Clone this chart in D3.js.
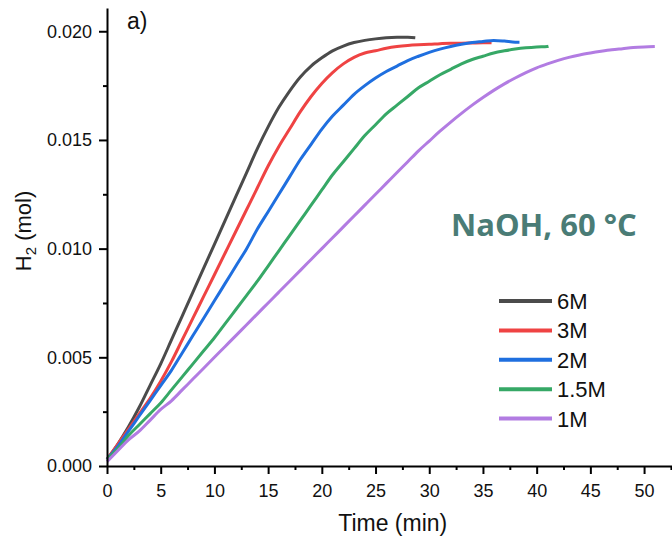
<!DOCTYPE html>
<html>
<head>
<meta charset="utf-8">
<script src="https://cdn.jsdelivr.net/npm/d3@7"></script>
<style>
  html,body{margin:0;padding:0;background:#fff;}
  svg{display:block;}
  .axis path,.axis line{stroke:#000;stroke-width:2;}
  .axis text{font-family:"Liberation Sans",Arial,sans-serif;font-size:18px;fill:#111;}
</style>
</head>
<body>
<div id="chart"></div>
<script>
// H2 evolved vs time, one array per NaOH concentration (1-min steps, last value at END_T)
const SERIES = ["6M","3M","2M","1.5M","1M"];
const COLORS = ["#4b4b4b","#ef4343","#1f6fdf","#36a866","#b27ce2"];
const END_T = [28.7, 35.8, 38.4, 41.1, 51.0];

const H2_6M = [0.0003,0.0010,0.0018,0.0027,0.0037,0.0047,0.0058,0.0069,0.0080,0.0091,
  0.0102,0.0113,0.0124,0.0135,0.0146,0.0156,0.0165,0.01725,0.0179,0.0184,
  0.01878,0.0191,0.01932,0.01948,0.01958,0.01965,0.0197,0.01972,0.01972,0.0197];
const H2_3M = [0.0003,0.0010,0.0017,0.0024,0.0031,0.0039,0.0048,0.0058,0.0068,0.0078,
  0.0088,0.0098,0.0108,0.0118,0.0128,0.0138,0.0147,0.0155,0.0163,0.0170,
  0.0176,0.0181,0.0185,0.0188,0.0190,0.0191,0.01922,0.0193,0.01935,0.01938,
  0.0194,0.01943,0.01945,0.01945,0.01946,0.01947,0.01947];
const H2_2M = [0.0003,0.0009,0.0016,0.0023,0.0030,0.0037,0.0044,0.0052,0.0060,0.0068,
  0.0076,0.0084,0.0092,0.0100,0.0109,0.0117,0.0125,0.0133,0.0141,0.0148,
  0.0155,0.0161,0.0166,0.0171,0.0175,0.01785,0.01815,0.0184,0.01865,0.01885,
  0.01903,0.01918,0.0193,0.0194,0.01948,0.01953,0.01958,0.01955,0.0195,0.0195];
const H2_15M = [0.0003,0.0008,0.0014,0.0019,0.0024,0.0029,0.0035,0.0041,0.0047,0.0053,
  0.0059,0.00655,0.0072,0.00785,0.0085,0.0092,0.0099,0.0106,0.0113,0.0120,
  0.0127,0.0134,0.0140,0.0146,0.0152,0.0157,0.0162,0.0166,0.0170,0.0174,
  0.0177,0.0180,0.01825,0.0185,0.0187,0.01885,0.0190,0.0191,0.01918,0.01924,
  0.01928,0.0193,0.01931];
const H2_1M = [0.0002,0.0007,0.0012,0.0016,0.0021,0.0026,0.0030,0.0035,0.0040,0.0045,
  0.0050,0.0055,0.0060,0.0065,0.0070,0.0075,0.0080,0.0085,0.0090,0.0095,
  0.0100,0.0105,0.0110,0.0115,0.0120,0.0125,0.0130,0.0135,0.0140,0.0145,
  0.01495,0.0154,0.01582,0.01622,0.0166,0.01695,0.01728,0.01758,0.01785,0.0181,
  0.01832,0.0185,0.01866,0.0188,0.01891,0.0190,0.01908,0.01915,0.0192,0.01925,
  0.01928,0.0193];
const VALUES = [H2_6M, H2_3M, H2_2M, H2_15M, H2_1M];

const X_TICKS = [0,5,10,15,20,25,30,35,40,45,50];
const Y_TICKS = [0,0.005,0.010,0.015,0.020];

const W=672, H=539;
const MG={t:8,r:0,b:73,l:107};

const svg=d3.select("#chart").append("svg").attr("width",W).attr("height",H);
const iW=W-MG.l-MG.r, iH=H-MG.t-MG.b;
const g=svg.append("g").attr("transform",`translate(${MG.l},${MG.t})`);

const x=d3.scaleLinear().domain([0,52.6]).range([0,iW]);
const y=d3.scaleLinear().domain([0,0.02107]).range([iH,0]);

// data -> points (index = minute, last point at END_T)
const data=VALUES.map((vals,k)=>vals.map((v,i)=>({t: i===vals.length-1 ? END_T[k] : i, v})));

const line=d3.line().curve(d3.curveMonotoneX).x(d=>x(d.t)).y(d=>y(d.v));
g.selectAll(".curve").data(data).join("path")
  .attr("class","curve")
  .attr("fill","none")
  .attr("stroke",(d,i)=>COLORS[i])
  .attr("stroke-width",3)
  .attr("stroke-linejoin","round")
  .attr("d",line);

// minor ticks
g.append("g").attr("class","axis").attr("transform",`translate(0,${iH})`)
  .call(d3.axisBottom(x).tickValues(d3.range(2.5,52.6,5)).tickSize(4).tickFormat(""))
  .select(".domain").remove();
g.append("g").attr("class","axis")
  .call(d3.axisLeft(y).tickValues([0.0025,0.0075,0.0125,0.0175]).tickSize(4).tickFormat(""))
  .select(".domain").remove();

// major axes
g.append("g").attr("class","axis").attr("transform",`translate(0,${iH})`)
  .call(d3.axisBottom(x).tickValues(X_TICKS).tickSize(8).tickSizeOuter(0).tickPadding(10));
g.append("g").attr("class","axis")
  .call(d3.axisLeft(y).tickValues(Y_TICKS).tickSize(8).tickSizeOuter(0).tickPadding(7)
    .tickFormat(d3.format(".3f")));

// axis titles
svg.append("text").attr("x",MG.l+x(26.6)).attr("y",531)
  .attr("text-anchor","middle").attr("font-family","'Liberation Sans',Arial,sans-serif")
  .attr("font-size",23).attr("fill","#111").text("Time (min)");
const yt=svg.append("text").attr("transform","translate(31,231) rotate(-90)")
  .attr("text-anchor","middle").attr("font-family","'Liberation Sans',Arial,sans-serif")
  .attr("font-size",22).attr("fill","#111");
yt.append("tspan").text("H");
yt.append("tspan").attr("font-size",15).attr("dy",5).text("2");
yt.append("tspan").attr("dy",-5).text(" (mol)");

// panel label + condition
svg.append("text").attr("x",127).attr("y",29)
  .attr("font-family","'Liberation Sans',Arial,sans-serif").attr("font-size",23).attr("fill","#111").text("a)");
svg.append("text").attr("x",451).attr("y",236)
  .attr("font-family","'Open Sans',sans-serif").attr("font-weight",700)
  .attr("font-size",31).attr("fill","#4a7c76").text("NaOH, 60 °C");

// legend
const lg=svg.append("g").attr("transform","translate(499,301)");
const li=lg.selectAll("g").data(SERIES).join("g").attr("transform",(d,i)=>`translate(0,${i*29.4})`);
li.append("line").attr("x1",0).attr("x2",53).attr("stroke",(d,i)=>COLORS[i]).attr("stroke-width",4);
li.append("text").attr("x",58).attr("y",8)
  .attr("font-family","'Liberation Sans',Arial,sans-serif").attr("font-size",22).attr("fill","#111")
  .text(d=>d);
</script>
</body>
</html>
